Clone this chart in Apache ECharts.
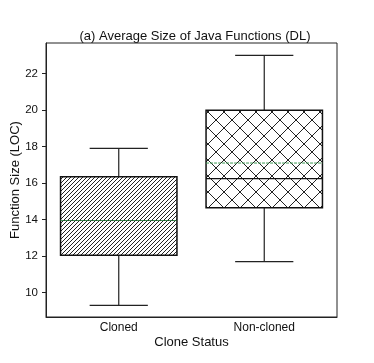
<!DOCTYPE html>
<html>
<head>
<meta charset="utf-8">
<script src="https://cdn.jsdelivr.net/npm/echarts@6/dist/echarts.min.js"></script>
<style>
  html, body { margin: 0; padding: 0; background: #fff; }
  #chart { width: 374px; height: 363px; }
</style>
</head>
<body>
<div id="chart"></div>
<script>
// values
const categories = ['Cloned', 'Non-cloned']
const lowWhisker = [9.3, 11.7]
const q1 = [12.05, 14.65]
const median = [13.95, 16.25]
const q3 = [16.35, 20.0]
const highWhisker = [17.9, 23.0]
const mean = [13.95, 17.1]
const yTicks = [10, 12, 14, 16, 18, 20, 22]

// small canvas tiles used as hatch fills
const hatchTile = (size, slash, backslash) => {
  const c = document.createElement('canvas')
  c.width = size
  c.height = size
  const ctx = c.getContext('2d')
  ctx.fillStyle = '#fff'
  ctx.fillRect(0, 0, size, size)
  ctx.strokeStyle = '#222'
  ctx.lineWidth = 1
  ctx.beginPath()
  if (slash) {
    ctx.moveTo(-1, size + 1); ctx.lineTo(size + 1, -1)
    ctx.moveTo(-1, 1); ctx.lineTo(1, -1)
    ctx.moveTo(size - 1, size + 1); ctx.lineTo(size + 1, size - 1)
  }
  if (backslash) {
    ctx.moveTo(-1, -1); ctx.lineTo(size + 1, size + 1)
    ctx.moveTo(size - 1, -1); ctx.lineTo(size + 1, 1)
    ctx.moveTo(-1, size - 1); ctx.lineTo(1, size + 1)
  }
  ctx.stroke()
  return c
}
const fills = [
  { image: hatchTile(4, true, false), repeat: 'repeat' },
  { image: hatchTile(16, true, true), repeat: 'repeat' }
]

const rows = categories.map((c, i) => [i, lowWhisker[i], q1[i], median[i], q3[i], highWhisker[i], mean[i]])

const chart = echarts.init(document.getElementById('chart'))

const option = {
  backgroundColor: '#fff',
  animation: false,
  title: {
    text: '(a) Average Size of Java Functions (DL)',
    left: 190,
    textAlign: 'center',
    top: 25,
    textStyle: { fontFamily: 'Liberation Sans', fontSize: 13, fontWeight: 'normal', color: '#111' }
  },
  grid: {
    left: 46, right: 37, top: 43, bottom: 46,
    outerBoundsMode: 'none',
    containLabel: false,
    show: true, borderColor: '#222', borderWidth: 1
  },
  xAxis: {
    type: 'category',
    data: categories,
    name: 'Clone Status',
    nameLocation: 'middle',
    nameGap: 19,
    nameMoveOverlap: false,
    nameTextStyle: { fontFamily: 'Liberation Sans', fontSize: 13, color: '#111' },
    axisLine: { lineStyle: { color: '#222', width: 1 } },
    axisTick: { alignWithLabel: true, length: 4, lineStyle: { color: '#222' } },
    axisLabel: { fontFamily: 'Liberation Sans', fontSize: 12, color: '#111', margin: 5 },
    splitLine: { show: false }
  },
  yAxis: {
    type: 'value',
    min: 8.66,
    max: 23.68,
    name: 'Function Size (LOC)',
    nameLocation: 'middle',
    nameGap: 24,
    nameMoveOverlap: false,
    nameTextStyle: { fontFamily: 'Liberation Sans', fontSize: 13, color: '#111' },
    axisLine: { show: true, lineStyle: { color: '#222', width: 1 } },
    axisTick: { show: true, length: 4, customValues: yTicks, lineStyle: { color: '#222' } },
    axisLabel: { fontFamily: 'Liberation Sans', fontSize: 11.5, color: '#111', margin: 8, customValues: yTicks },
    splitLine: { show: false }
  },
  series: [{
    type: 'custom',
    data: rows,
    encode: { x: 0, y: [1, 2, 3, 4, 5, 6] },
    renderItem: (params, api) => {
      const i = api.value(0)
      const x = api.coord([i, 0])[0]
      const bw = api.size([1, 0])[0] * 0.8
      const yLow = api.coord([i, api.value(1)])[1]
      const yQ1 = api.coord([i, api.value(2)])[1]
      const yMed = api.coord([i, api.value(3)])[1]
      const yQ3 = api.coord([i, api.value(4)])[1]
      const yHigh = api.coord([i, api.value(5)])[1]
      const yMean = api.coord([i, api.value(6)])[1]
      const line = { stroke: '#222', lineWidth: 1.2 }
      return {
        type: 'group',
        children: [
          { type: 'line', shape: { x1: x, y1: yQ3, x2: x, y2: yHigh }, style: line },
          { type: 'line', shape: { x1: x, y1: yQ1, x2: x, y2: yLow }, style: line },
          { type: 'line', shape: { x1: x - bw / 4, y1: yHigh, x2: x + bw / 4, y2: yHigh }, style: line },
          { type: 'line', shape: { x1: x - bw / 4, y1: yLow, x2: x + bw / 4, y2: yLow }, style: line },
          { type: 'rect', shape: { x: x - bw / 2, y: yQ3, width: bw, height: yQ1 - yQ3 },
            style: { fill: fills[i], stroke: '#111', lineWidth: 1.5 } },
          { type: 'line', shape: { x1: x - bw / 2, y1: yMed, x2: x + bw / 2, y2: yMed },
            style: { stroke: '#111', lineWidth: 1.2 } },
          { type: 'line', shape: { x1: x - bw / 2, y1: yMean, x2: x + bw / 2, y2: yMean },
            style: { stroke: '#3f9a55', lineWidth: 1, lineDash: [3, 1] } }
        ]
      }
    }
  }]
}

chart.setOption(option)
</script>
</body>
</html>
